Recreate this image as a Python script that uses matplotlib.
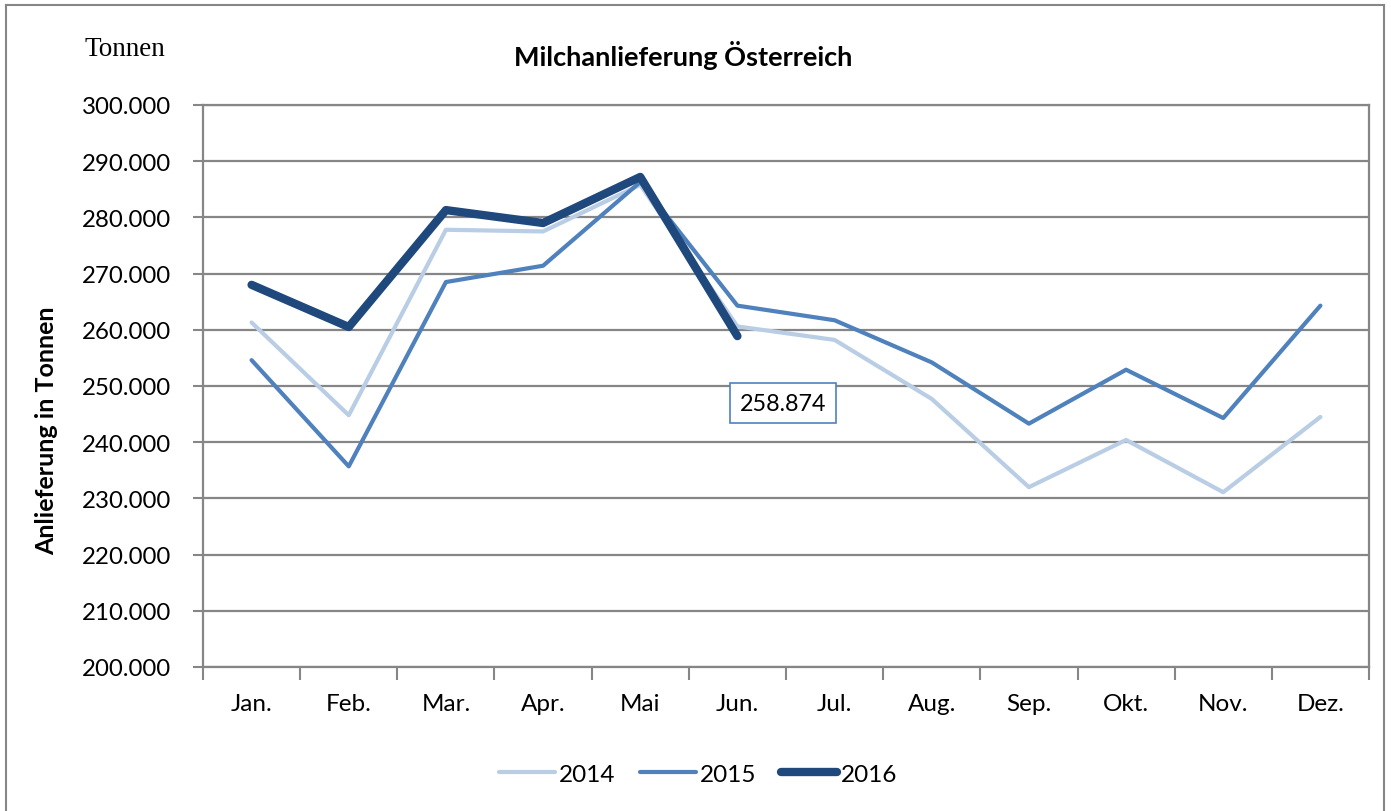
import matplotlib
matplotlib.use("Agg")
import matplotlib.pyplot as plt
from matplotlib.lines import Line2D
from matplotlib.ticker import FixedLocator, FuncFormatter

months = ["Jan.", "Feb.", "Mar.", "Apr.", "Mai", "Jun.", "Jul.", "Aug.", "Sep.", "Okt.", "Nov.", "Dez."]
v2014 = [261300, 244800, 277800, 277500, 285800, 260600, 258200, 247700, 232000, 240400, 231100, 244500]
v2015 = [254600, 235700, 268500, 271400, 286300, 264300, 261700, 254200, 243300, 252900, 244300, 264300]
v2016 = [268000, 260500, 281300, 279000, 287200, 258874]
years = ["2014", "2015", "2016"]
colors = ["#B9CDE5", "#4F81BD", "#1F497D"]
widths = [3.0, 3.0, 6.0]

plt.rcParams['font.family'] = ['Lato', 'DejaVu Sans']

fig = plt.figure(figsize=(13.91, 8.12), dpi=100)
W, H = 1391, 812
ax = fig.add_axes([203 / W, 1 - 668 / H, 1166 / W, 562 / H])

x = list(range(len(months)))
for vals, c, lw, lab in zip([v2014, v2015, v2016], colors, widths, years):
    ax.plot(x[:len(vals)], vals, color=c, lw=lw, solid_capstyle='round',
            solid_joinstyle='round', label=lab, zorder=3)

ax.set_xlim(-0.5, 11.5)
ax.set_ylim(200000, 300000)
ax.yaxis.set_major_locator(FixedLocator(list(range(200000, 300001, 10000))))
ax.yaxis.set_major_formatter(FuncFormatter(lambda v, p: f"{int(v):,}".replace(",", ".")))
ax.set_xticks(x)
ax.set_xticklabels(months)
ax.set_xticks([i - 0.5 for i in range(13)], minor=True)
ax.tick_params(axis='x', which='major', length=0, pad=19, labelsize=17.5)
ax.tick_params(axis='x', which='minor', length=9, width=1.5, color='#868686', direction='out')
ax.tick_params(axis='y', which='major', length=7, width=1.5, color='#868686', labelsize=17.3, pad=16)
ax.grid(axis='y', color='#868686', lw=1.6, zorder=1)
for s in ax.spines.values():
    s.set_color('#868686')
    s.set_linewidth(1.6)

ax.text(5.47, v2016[5] - 11900, "258.874", ha='center', va='center', fontsize=16.8,
        bbox=dict(boxstyle='square,pad=0.42', fc='white', ec='#4F81BD', lw=1.2), zorder=5)

fig.text(683 / W, 1 - 55 / H, "Milchanlieferung Österreich", ha='center', va='center',
         fontsize=19.5, fontweight='bold')
fig.text(125 / W, 1 - 50 / H, "Tonnen", ha='center', va='center', fontsize=19.5,
         family='Liberation Serif')
fig.text(47 / W, 1 - 431 / H, "Anlieferung in Tonnen", ha='center', va='center',
         rotation=90, fontsize=18, fontweight='bold')

handles = [Line2D([0], [0], color=c, lw=lw, solid_capstyle='round') for c, lw in zip(colors, widths)]
fig.legend(handles, years, loc='center', bbox_to_anchor=(698 / W, 1 - 775 / H), ncol=3,
           frameon=False, fontsize=17.5, handlelength=2.3, handletextpad=0.17, columnspacing=1.0)

# outer border
for (x0, y0, x1, y1) in [(6, 6, 1384, 6), (6, 6, 6, 812), (1384, 6, 1384, 812)]:
    fig.add_artist(Line2D([x0 / W, x1 / W], [1 - y0 / H, 1 - y1 / H], color='#868686', lw=1.5))

fig.savefig("out.png", dpi=100)
